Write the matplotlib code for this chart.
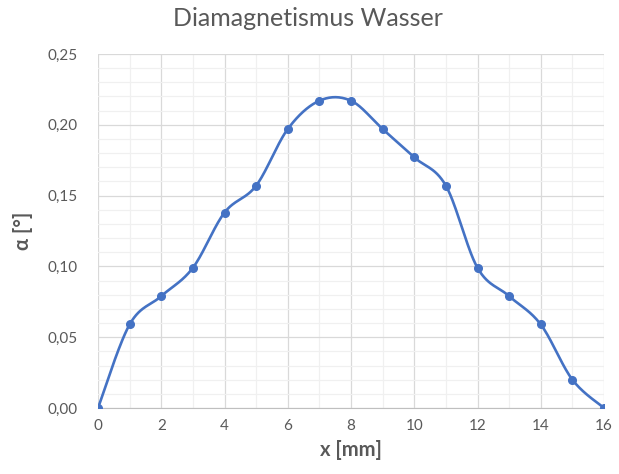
import numpy as np
import matplotlib
matplotlib.use("Agg")
import matplotlib.pyplot as plt
from matplotlib.ticker import MultipleLocator, FuncFormatter

plt.rcParams['font.family'] = ['Lato', 'DejaVu Sans']

# Daten
x_mm = [0, 1, 2, 3, 4, 5, 6, 7, 8, 9, 10, 11, 12, 13, 14, 15, 16]
alpha = [0.0, 0.059, 0.079, 0.099, 0.138, 0.157, 0.197, 0.217, 0.217,
         0.197, 0.177, 0.157, 0.099, 0.079, 0.059, 0.020, 0.0]


def glatt(xs, ys, n=30):
    # Excel-artige Glättung (Catmull-Rom / Bezier)
    p = np.column_stack([xs, ys]).astype(float)
    p = np.vstack([p[0], p, p[-1]])
    out = []
    t = np.linspace(0, 1, n)[:, None]
    for i in range(1, len(p) - 2):
        p0, p1, p2, p3 = p[i - 1], p[i], p[i + 1], p[i + 2]
        c1 = p1 + (p2 - p0) / 6
        c2 = p2 - (p3 - p1) / 6
        seg = ((1 - t) ** 3) * p1 + 3 * ((1 - t) ** 2) * t * c1 \
            + 3 * (1 - t) * t ** 2 * c2 + t ** 3 * p2
        out.append(seg)
    out = np.vstack(out)
    return out[:, 0], out[:, 1]


fig = plt.figure(figsize=(6.19, 4.74), dpi=100)
ax = fig.add_axes([98 / 619, 1 - 408 / 474, 506 / 619, 354 / 474])

farbe = '#4472C4'
gx, gy = glatt(x_mm, alpha)
ax.plot(gx, gy, color=farbe, lw=1.9, zorder=3)
ax.plot(x_mm, alpha, 'o', color=farbe, ms=5.5, zorder=4)

ax.set_xlim(0, 16)
ax.set_ylim(0, 0.25)
ax.xaxis.set_major_locator(MultipleLocator(2))
ax.xaxis.set_minor_locator(MultipleLocator(1))
ax.yaxis.set_major_locator(MultipleLocator(0.05))
ax.yaxis.set_minor_locator(MultipleLocator(0.01))
ax.yaxis.set_major_formatter(FuncFormatter(lambda v, p: f"{v:.2f}".replace('.', ',')))

ax.grid(which='major', color='#D9D9D9', lw=0.9)
ax.grid(which='minor', color='#F0F0F0', lw=0.9)
ax.set_axisbelow(True)
for s in ['top', 'right', 'left']:
    ax.spines[s].set_visible(False)
ax.spines['bottom'].set_color('#BFBFBF')
ax.tick_params(which='both', length=0, colors='#595959', labelsize=11)
ax.tick_params(axis='x', pad=8)
ax.tick_params(axis='y', pad=15)

fig.text(0.497, 0.962, 'Diamagnetismus Wasser', fontsize=18, color='#595959',
         ha='center', va='center')
ax.set_xlabel('x [mm]', fontsize=14.5, fontweight='bold', color='#595959', labelpad=5)
ax.set_ylabel('α [°]', fontsize=14.5, fontweight='bold', color='#595959', labelpad=10)

fig.savefig('out.png', dpi=100, facecolor='white')
